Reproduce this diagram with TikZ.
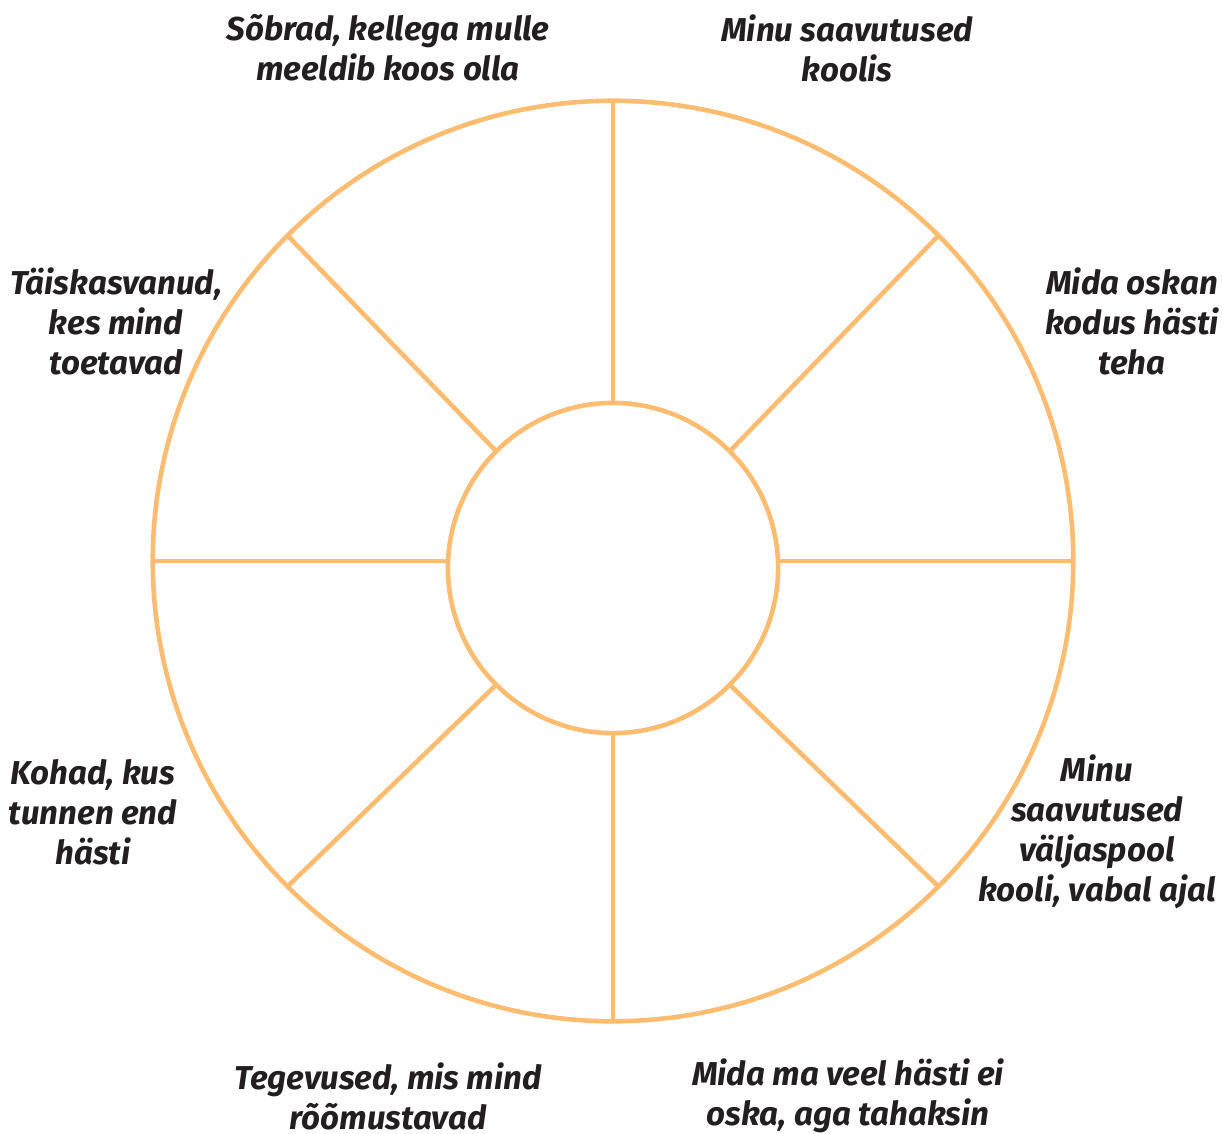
\documentclass[tikz,border=0pt]{standalone}
\usepackage{fontspec}
\setmainfont{Fira Sans}
\usepackage{xcolor}
\usetikzlibrary{positioning}
\definecolor{wheelorange}{RGB}{253,188,112}
\definecolor{labelink}{RGB}{35,31,32}

\begin{document}
\begin{tikzpicture}[x=0.01cm, y=-0.01cm,
  ring/.style={circle, draw=wheelorange, line width=1.3pt, outer sep=0pt, inner sep=0pt},
  spoke/.style={draw=wheelorange, line width=1.3pt},
  segtext/.style={align=center, inner sep=0pt, text=labelink, font=\fontsize{9.4pt}{11.4pt}\selectfont\bfseries\itshape}
]
\useasboundingbox (0,0) rectangle (1222,1133);
\node[ring, minimum size=9.2cm] (wheel) at (613,561) {};
\node[ring, minimum size=3.3cm] (hub) at (613,568) {};
% spokes
\draw[spoke] (wheel.north) -- (hub.north);
\draw[spoke] (wheel.south) -- (hub.south);
\draw[spoke] (wheel.west) -- (wheel.west -| hub.west);
\draw[spoke] (wheel.east) -- (wheel.east -| hub.east);
\draw[spoke] (wheel.45) -- (hub.45);
\draw[spoke] (wheel.135) -- (hub.135);
\draw[spoke] (wheel.-135) -- (hub.-135);
\draw[spoke] (wheel.-45) -- (hub.-45);
% segment labels
\node[segtext] (friends) at (388,48) {Sõbrad, kellega mulle\\meeldib koos olla};
\node[segtext] (school) at (847,48) {Minu saavutused\\koolis};
\node[segtext] (home) at (1132,321) {Mida oskan\\kodus hästi\\teha};
\node[segtext] (adults) at (116,321) {Täiskasvanud,\\kes mind\\toetavad};
\node[segtext] (places) at (93,812) {Kohad, kus\\tunnen end\\hästi};
\node[segtext] (free) at (1097,832) {Minu\\saavutused\\väljaspool\\kooli, vabal ajal};
\node[segtext] (joy) at (388,1096) {Tegevused, mis mind\\rõõmustavad};
\node[segtext] (wish) at (848,1096) {Mida ma veel hästi ei\\oska, aga tahaksin};
\end{tikzpicture}
\end{document}
